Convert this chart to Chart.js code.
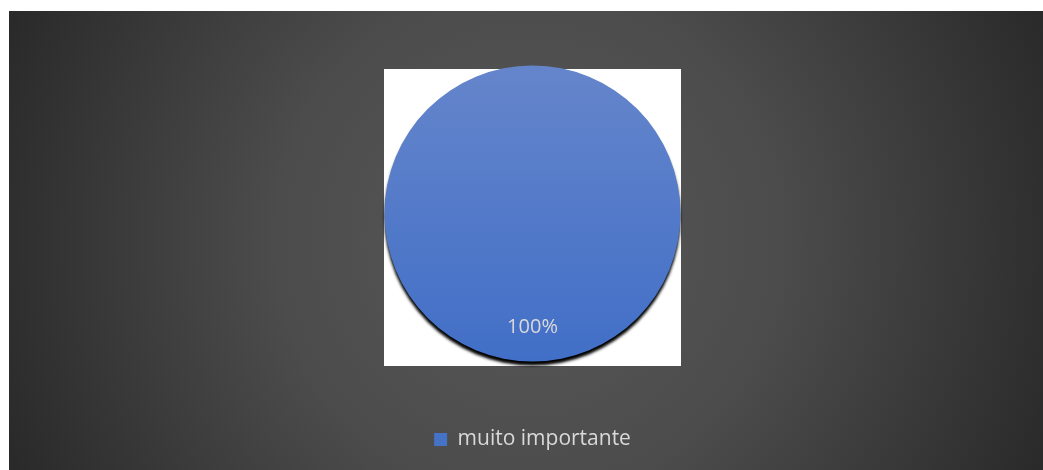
<!DOCTYPE html>
<html>
<head>
<meta charset="utf-8">
<script src="https://cdn.jsdelivr.net/npm/chart.js@4"></script>
<style>
html,body{margin:0;padding:0;background:#fff;}
#wrap{width:1043px;height:470px;position:relative;}
</style>
</head>
<body>
<div id="wrap"><canvas id="c" width="1043" height="470"></canvas></div>
<script>
const categories = ['muito importante'];
const values = [100];
const valueLabels = ['100%'];

const bgPlugin = {
  id: 'bg',
  beforeDraw(chart) {
    const ctx = chart.ctx;
    ctx.save();
    ctx.fillStyle = '#ffffff';
    ctx.fillRect(0, 0, chart.width, chart.height);
    const g = ctx.createRadialGradient(528, 240, 0, 528, 240, 560);
    g.addColorStop(0, '#585858');
    g.addColorStop(0.45, '#4c4c4c');
    g.addColorStop(1, '#2a2a2a');
    ctx.fillStyle = g;
    ctx.fillRect(9, 11, chart.width - 9, chart.height - 11);
    ctx.fillStyle = '#ffffff';
    ctx.fillRect(384, 69, 297, 297);
    ctx.restore();
  },
  beforeDatasetDraw(chart) {
    const ctx = chart.ctx;
    ctx.save();
    ctx.shadowColor = 'rgba(0,0,0,1)';
    ctx.shadowOffsetY = 4;
    ctx.shadowOffsetX = 0;
    ctx.shadowBlur = 3;
  },
  afterDatasetDraw(chart) {
    chart.ctx.restore();
  },
  afterDatasetsDraw(chart) {
    const ctx = chart.ctx;
    const meta = chart.getDatasetMeta(0);
    ctx.save();
    ctx.fillStyle = '#d9d9d9';
    ctx.font = '20px "Open Sans"';
    ctx.textAlign = 'center';
    ctx.textBaseline = 'middle';
    meta.data.forEach((arc, i) => {
      ctx.fillText(valueLabels[i], arc.x, arc.y + arc.outerRadius * 0.77);
    });
    ctx.restore();
  }
};

new Chart(document.getElementById('c'), {
  type: 'pie',
  data: {
    labels: categories,
    datasets: [{
      data: values,
      borderWidth: 0,
      radius: 148,
      backgroundColor(context) {
        const chart = context.chart;
        const a = chart.chartArea;
        if (!a) return '#4472C4';
        const cy = (a.top + a.bottom) / 2;
        const g = chart.ctx.createLinearGradient(0, cy - 148, 0, cy + 148);
        g.addColorStop(0, '#6585CB');
        g.addColorStop(1, '#416FC7');
        return g;
      }
    }]
  },
  options: {
    responsive: false,
    animation: false,
    layout: { padding: { top: 8, left: 22, right: 0, bottom: 10 } },
    plugins: {
      tooltip: { enabled: false },
      legend: {
        position: 'bottom',
        labels: {
          color: '#d9d9d9',
          font: { family: 'Open Sans', size: 21 },
          boxWidth: 13,
          boxHeight: 13,
          padding: 10,
          generateLabels() {
            return categories.map((c, i) => ({
              text: c, fillStyle: '#4472C4', strokeStyle: '#4472C4', lineWidth: 0, hidden: false, index: i,
              fontColor: '#d9d9d9'
            }));
          }
        }
      }
    }
  },
  plugins: [bgPlugin]
});
</script>
</body>
</html>
